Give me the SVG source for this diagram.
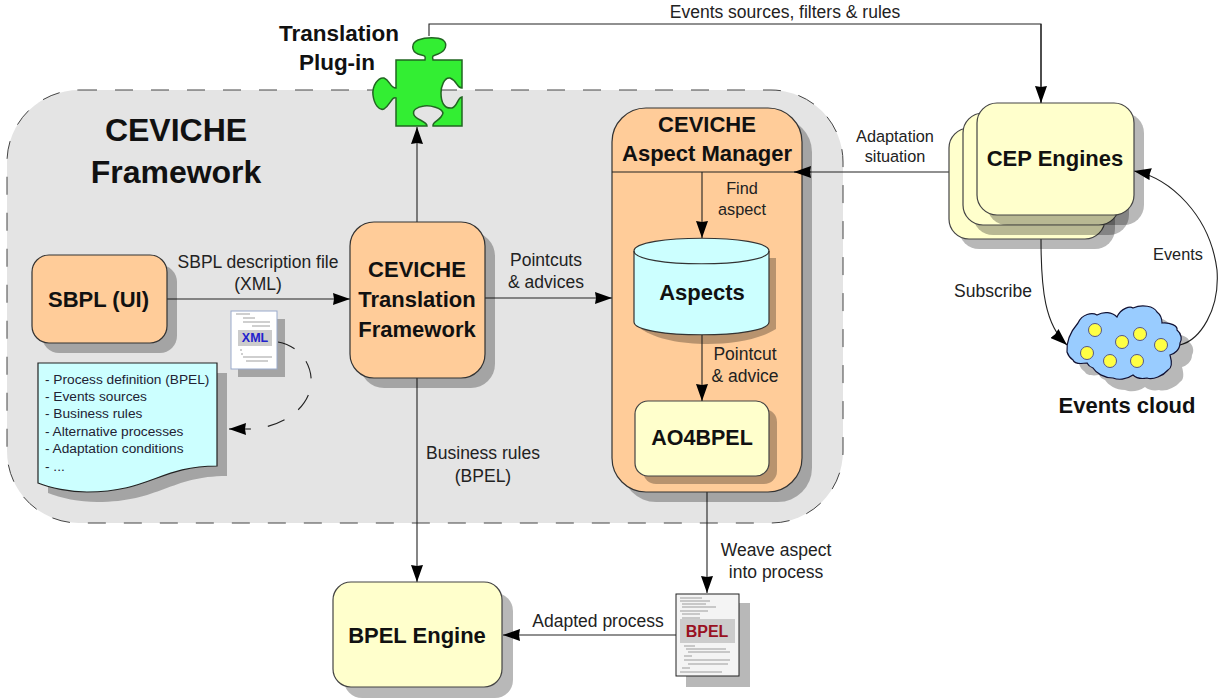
<svg xmlns="http://www.w3.org/2000/svg" width="1225" height="698" viewBox="0 0 1225 698">
<style>
text{font-family:"Liberation Sans",Arial,sans-serif;fill:#222}
.l{font-size:17.5px;text-anchor:middle}
.m{font-size:16.3px;text-anchor:middle}
.b{font-weight:bold;font-size:22px;text-anchor:middle;fill:#111}
.t{font-size:13.7px;fill:#223}
.s{fill:#000;fill-opacity:.28;stroke:none}
.o{fill:#ffcc99;stroke:#333;stroke-width:1.2}
.y{fill:#ffffcc;stroke:#444;stroke-width:1.2}
.c{fill:none;stroke:#222;stroke-width:1.1}
.a{marker-end:url(#ah)}
.g{stroke:#777;stroke-width:.7;fill:none}
</style>
<defs>
<marker id="ah" markerUnits="userSpaceOnUse" markerWidth="17" markerHeight="12" refX="17" refY="6" viewBox="0 0 17 12" orient="auto"><path d="M0 0L17 6L0 12L1 6Z" fill="#000"/></marker>
</defs>
<rect width="1225" height="698" fill="#fff"/>
<g id="framework">
<rect x="7" y="90" width="836" height="433" rx="72" ry="72" fill="#e4e4e4" stroke="#444" stroke-width="1" stroke-dasharray="18 18"/>
<text x="176" y="141" text-anchor="middle" font-weight="bold" font-size="32" style="fill:#111">CEVICHE</text>
<text x="176" y="183" text-anchor="middle" font-weight="bold" font-size="32" style="fill:#111">Framework</text>
</g>
<g id="connectors">
<path class="c" d="M429 36V24H1041V103"/>
<path class="c a" d="M1041 24V103"/>
<path class="c a" d="M417 222V127"/>
<path class="c a" d="M167 299H350"/>
<path class="c a" d="M485 298H612"/>
<path class="c a" d="M417 378V582"/>
<path class="c" d="M949 172H802"/>
<path class="c a" d="M707 492V593"/>
<path class="c a" d="M676 635H503"/>
<path class="c a" d="M1041 239C1041 290 1045 325 1067 345"/>
<path class="c a" d="M1180 345C1200 340 1220 310 1217 270C1210 215 1170 178 1134 171"/>
<path class="c" d="M278 342C300 346 313 365 311 385C308 410 280 428 250 429" stroke-dasharray="18 17"/>
<path class="c a" d="M250 429H229"/>
</g>
<g id="sbpl"><rect class="s" x="42" y="265" width="135" height="88" rx="17"/><rect class="o" x="32" y="255" width="135" height="88" rx="17"/><text class="b" x="98.500" y="307">SBPL (UI)</text></g>
<g id="translation"><rect class="s" x="360" y="232" width="135" height="156" rx="24"/><rect class="o" x="350" y="222" width="135" height="156" rx="24"/><text class="b" x="417" y="277">CEVICHE</text><text class="b" x="417" y="307">Translation</text><text class="b" x="417" y="337">Framework</text></g>
<g id="manager"><rect class="s" x="622" y="118" width="190" height="384" rx="34"/><rect class="o" x="612" y="108" width="190" height="384" rx="34"/><path class="c" d="M612 172H802" stroke="#433"/><text class="b" x="707" y="132">CEVICHE</text><text class="b" x="707" y="161">Aspect Manager</text></g>
<g id="aspects"><path class="s" d="M641 258V329C670 349 745 349 776 329V258Z"/><path d="M634 251C634 234 769 234 769 251V322C769 339 634 339 634 322Z" fill="#ccffff" stroke="#333" stroke-width="1.2"/><path d="M634 251C634 268 769 268 769 251" fill="none" stroke="#333" stroke-width="1.2"/><text class="b" x="702" y="300">Aspects</text></g>
<g id="ao4bpel"><rect class="s" x="643" y="409" width="134" height="75" rx="13"/><rect class="y" x="635" y="401" width="134" height="75" rx="13"/><text class="b" x="702" y="445" style="font-size:21.500px">AO4BPEL</text></g>
<g id="inner-connectors">
<path class="c a" d="M702 172V238"/>
<path class="c a" d="M702 335V401"/>
<path class="c a" d="M811 172H794"/>
</g>
<g id="bpel-engine"><rect class="s" x="344" y="593" width="169" height="105" rx="18"/><rect class="y" x="333" y="582" width="169" height="105" rx="18"/><text class="b" x="417" y="643">BPEL Engine</text></g>
<g id="cep">
<rect class="s" x="959" y="138" width="156" height="111" rx="20"/><rect class="y" x="949" y="128" width="156" height="111" rx="20"/>
<rect class="s" x="973" y="123" width="156" height="112" rx="20"/><rect class="y" x="963" y="113" width="156" height="112" rx="20"/>
<rect class="s" x="987" y="113" width="157" height="112" rx="20"/><rect class="y" x="977" y="103" width="157" height="112" rx="20"/>
<text class="b" x="1055" y="166">CEP Engines</text></g>
<g id="puzzle"><path d="M396 60H425C426 55 424 56 418 54C411 51 411 43 418 40C426 37 438 37 443 40C448 44 446 51 438 54C432 56 432 56 433 60H462V88C456 88 458 81 450 78C444 77 441 87 441 93C441 102 444 109 452 108C458 106 457 98 462 97V126H433C432 121 441 121 443 113C442 108 430 105 424 106C417 107 412 110 414 115C416 120 427 121 427 126H396V98C392 96 391 104 384 109C379 111 374 104 373 95C372 86 378 77 384 78C390 80 390 88 396 88Z" fill="#33ee33" stroke="#226622" stroke-width="1.5"/></g>
<g id="xml-doc"><rect class="s" x="238" y="319" width="47" height="58"/><rect x="231" y="311" width="46" height="58" fill="#fff" stroke="#99aacc"/><rect x="238" y="330" width="34" height="16" fill="#ccc"/><path class="g" d="M236 314H250M243 318H255M243 322H270M252 326H270M240 350H242M241 354H243M243 357H272M246 361H268"/><text x="255" y="342" text-anchor="middle" font-weight="bold" font-size="12.500" style="fill:#2222cc">XML</text></g>
<g id="bpel-doc"><rect class="s" x="686" y="603" width="64" height="84"/><rect x="676" y="594" width="63" height="82" fill="#f4f4f4" stroke="#222"/><rect x="680" y="619" width="55" height="24" fill="#ccc"/><path class="g" d="M680 598H702M680 601H710M682 604H706M682 607H716M680 611H708M682 614H700M682 618H700M684 646H695M686 649H726M688 652H730M684 656H692M684 660H730M688 664H728M682 668H690M680 672H722"/><text x="707" y="637" text-anchor="middle" font-weight="bold" font-size="16" style="fill:#991122">BPEL</text></g>
<g id="note"><path class="s" d="M48 373H227V476C170 476 160 502 97 502C80 502 60 498 48 493Z"/><path d="M38 363H217V466C160 466 150 492 87 492C70 492 50 488 38 483Z" fill="#ccffff" stroke="#222" stroke-width="1.2"/>
<text class="t" x="45" y="384">- Process definition (BPEL)</text><text class="t" x="45" y="401">- Events sources</text><text class="t" x="45" y="418">- Business rules</text><text class="t" x="45" y="436">- Alternative processes</text><text class="t" x="45" y="453">- Adaptation conditions</text><text class="t" x="45" y="471">- ...</text></g>
<g id="cloud"><path class="s" transform="translate(12 12)" d="M1067 352C1066 340 1072 330 1078 323C1082 314 1092 312 1097 315C1104 311 1112 312 1117 317C1121 308 1130 306 1133 308C1142 304 1154 306 1157 312C1161 315 1162 319 1162 323C1170 322 1178 326 1177 330C1182 334 1182 340 1180 343C1180 350 1174 354 1170 355C1172 362 1172 368 1168 370C1163 376 1153 380 1147 378C1142 379 1136 378 1133 375C1126 380 1118 380 1113 378C1104 378 1096 373 1093 368C1090 367 1088 365 1087 363C1080 364 1074 363 1073 360C1070 358 1068 355 1067 352Z"/><path d="M1067 352C1066 340 1072 330 1078 323C1082 314 1092 312 1097 315C1104 311 1112 312 1117 317C1121 308 1130 306 1133 308C1142 304 1154 306 1157 312C1161 315 1162 319 1162 323C1170 322 1178 326 1177 330C1182 334 1182 340 1180 343C1180 350 1174 354 1170 355C1172 362 1172 368 1168 370C1163 376 1153 380 1147 378C1142 379 1136 378 1133 375C1126 380 1118 380 1113 378C1104 378 1096 373 1093 368C1090 367 1088 365 1087 363C1080 364 1074 363 1073 360C1070 358 1068 355 1067 352Z" fill="#99ccff" stroke="#113" stroke-width="1.2"/>
<g fill="#ffff44" stroke="#558" stroke-width="1"><circle cx="1095" cy="330" r="6.500"/><circle cx="1122" cy="342" r="6.500"/><circle cx="1140" cy="334" r="6.500"/><circle cx="1161" cy="345" r="6.500"/><circle cx="1087" cy="353" r="6.500"/><circle cx="1110" cy="361" r="6.500"/><circle cx="1137" cy="361" r="6.500"/></g>
<text class="b" x="1127" y="413">Events cloud</text></g>
<g id="labels">
<text class="b" x="339" y="41" style="font-size:22.500px">Translation</text><text class="b" x="337" y="70" style="font-size:22.500px">Plug-in</text>
<text class="l" x="785" y="18">Events sources, filters &amp; rules</text>
<text class="m" x="895" y="142">Adaptation</text><text class="m" x="895" y="162">situation</text>
<text class="l" x="258" y="268">SBPL description file</text><text class="l" x="258" y="290">(XML)</text>
<text class="l" x="546" y="266">Pointcuts</text><text class="l" x="546" y="288">&amp; advices</text>
<text class="m" x="742" y="194">Find</text><text class="m" x="742" y="215">aspect</text>
<text class="l" x="745" y="360">Pointcut</text><text class="l" x="745" y="382">&amp; advice</text>
<text class="l" x="483" y="459">Business rules</text><text class="l" x="483" y="482">(BPEL)</text>
<text class="l" x="776" y="556">Weave aspect</text><text class="l" x="776" y="578">into process</text>
<text class="l" x="598" y="627">Adapted process</text>
<text class="m" x="1178" y="260">Events</text>
<text class="l" x="993" y="297">Subscribe</text>
</g>
</svg>
